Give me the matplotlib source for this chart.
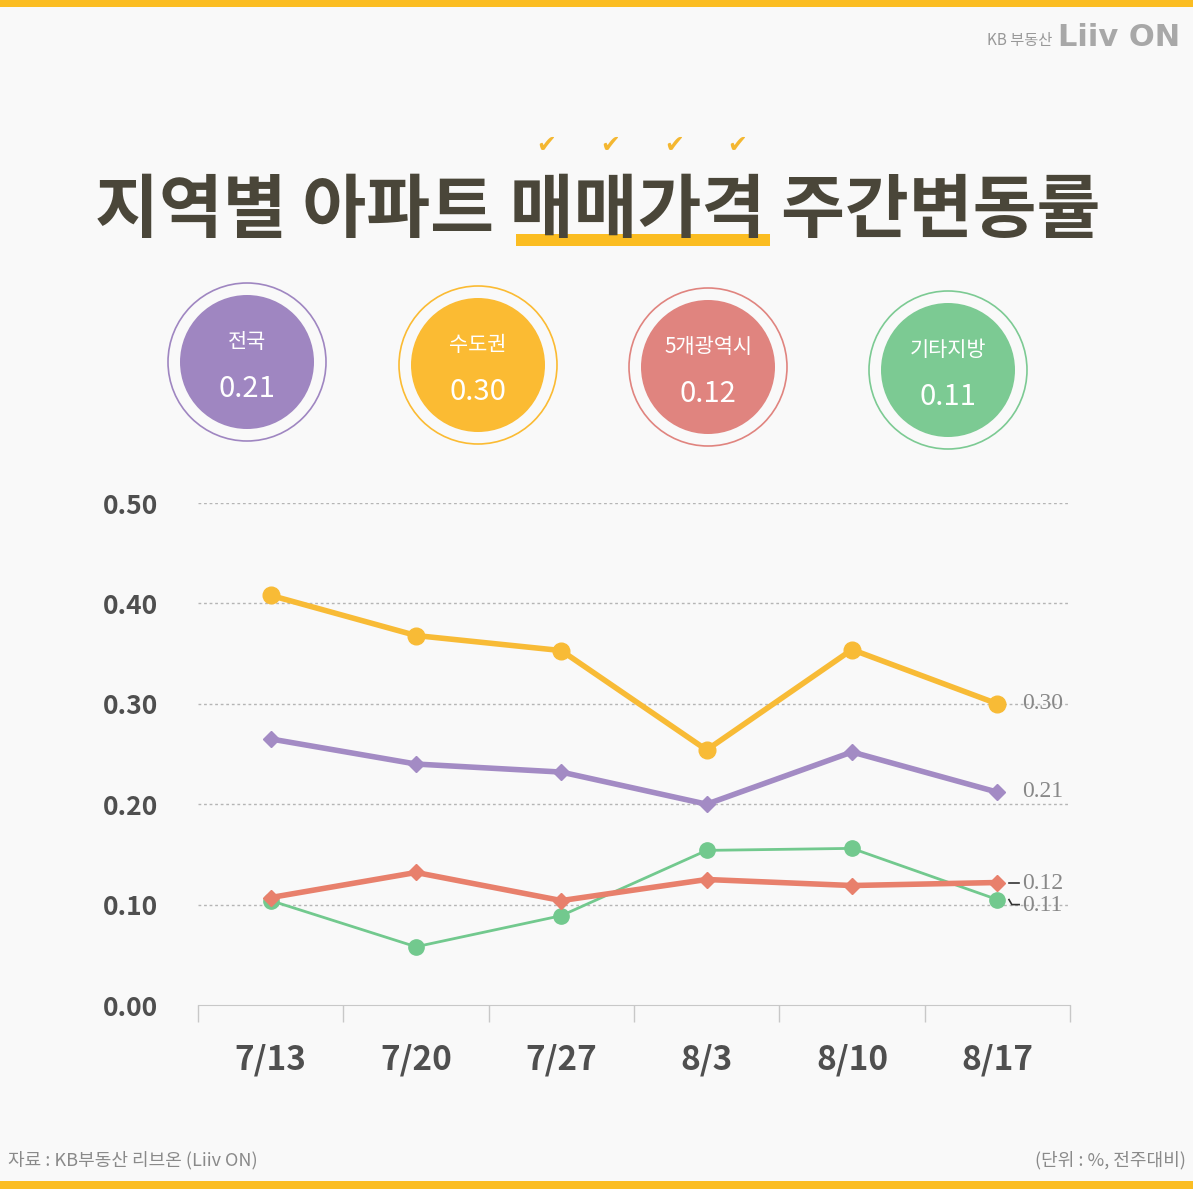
import matplotlib
matplotlib.use("Agg")
import matplotlib.pyplot as plt
from matplotlib.patches import Circle, Rectangle
import numpy as np

plt.rcParams['font.family'] = ['Noto Sans CJK KR', 'DejaVu Sans']

# data
dates = ["7/13", "7/20", "7/27", "8/3", "8/10", "8/17"]
capital = [0.408, 0.368, 0.353, 0.254, 0.354, 0.30]      # 수도권
nation = [0.265, 0.240, 0.232, 0.200, 0.252, 0.212]      # 전국
metro5 = [0.107, 0.132, 0.104, 0.125, 0.119, 0.122]      # 5개광역시
others = [0.104, 0.058, 0.089, 0.154, 0.156, 0.105]      # 기타지방

badge_names = ["전국", "수도권", "5개광역시", "기타지방"]
badge_values = ["0.21", "0.30", "0.12", "0.11"]
end_labels = ["0.30", "0.21", "0.12", "0.11"]

YELLOW = "#f8bb36"
PURPLE = "#a38bc4"
RED = "#e8806c"
GREEN = "#72c98e"
badge_colors = ["#9f86c1", "#fbbb33", "#e0847f", "#7cca93"]
TITLE_C = "#4a4639"

W, H = 1193, 1189
fig = plt.figure(figsize=(W / 100, H / 100), dpi=100, facecolor="#f9f9f9")

# overlay in pixel coordinates for decorations
deco = fig.add_axes([0, 0, 1, 1], zorder=0)
deco.set_xlim(0, W)
deco.set_ylim(H, 0)
deco.axis("off")

deco.add_patch(Rectangle((0, 0), W, 7, color="#fbbd22", lw=0))
deco.add_patch(Rectangle((0, 1181), W, 8, color="#fbbd22", lw=0))

# logo
deco.text(1052, 40, "KB 부동산", fontsize=11, color="#999999", ha="right", va="center")
deco.text(1058, 38, "Liiv ON", fontsize=22, color="#a8a8a8", ha="left", va="center",
          fontweight="bold", family="DejaVu Sans")

# title
deco.add_patch(Rectangle((516, 234), 254, 12, color="#fbbd22", lw=0, zorder=1))
deco.text(598, 212, "지역별 아파트 매매가격 주간변동률", fontsize=50, color=TITLE_C,
          fontweight="bold", ha="center", va="center", zorder=2)
for cx in [546, 610, 674, 737]:
    deco.text(cx, 145, "✔", fontsize=17, color="#f4b731", ha="center", va="center",
              family="DejaVu Sans")

# badges
centers = [(247, 362), (478, 365), (708, 367), (948, 370)]
for (cx, cy), name, val, col in zip(centers, badge_names, badge_values, badge_colors):
    deco.add_patch(Circle((cx, cy), 79, facecolor="none", edgecolor=col, lw=1.2))
    deco.add_patch(Circle((cx, cy), 67, facecolor=col, edgecolor="none"))
    deco.text(cx, cy - 20, name, fontsize=15, color="white", ha="center", va="center")
    deco.text(cx, cy + 27, val, fontsize=21, color="white", ha="center", va="center")

# footer
deco.text(8, 1160, "자료 : KB부동산 리브온 (Liiv ON)", fontsize=13, color="#8a8a8a",
          ha="left", va="center")
deco.text(1186, 1160, "(단위 : %, 전주대비)", fontsize=13, color="#8a8a8a",
          ha="right", va="center")

# chart
ax = fig.add_axes([198 / W, 1 - 1005 / H, (1070 - 198) / W, (1005 - 503) / H], zorder=2)
ax.patch.set_alpha(0)
x = np.arange(len(dates))

ax.plot(x, others, color=GREEN, lw=2, marker="o", ms=11, zorder=3, clip_on=False)
ax.plot(x, metro5, color=RED, lw=4, marker="D", ms=8, zorder=4, clip_on=False)
ax.plot(x, nation, color=PURPLE, lw=4, marker="D", ms=8, zorder=4, clip_on=False)
ax.plot(x, capital, color=YELLOW, lw=4, marker="o", ms=12, zorder=5, clip_on=False)

ax.set_xlim(-0.5, 5.5)
ax.set_ylim(0, 0.5)
for yv in [0.1, 0.2, 0.3, 0.4, 0.5]:
    ax.axhline(yv, color="#b5b5b5", lw=1, ls=(0, (2, 2)), zorder=1)

ax.set_yticks([0, 0.1, 0.2, 0.3, 0.4, 0.5])
ax.set_yticklabels(["0.00", "0.10", "0.20", "0.30", "0.40", "0.50"])
ax.set_xticks(x)
ax.set_xticklabels(dates)
ax.set_xticks(np.arange(-0.5, 6, 1), minor=True)
ax.tick_params(axis="y", length=0, pad=29, labelsize=19, labelcolor="#4f4f4f")
ax.tick_params(axis="x", which="major", length=0, pad=28, labelsize=24, labelcolor="#4f4f4f")
ax.tick_params(axis="x", which="minor", length=12, width=1, color="#c8c8c8")
for lab in ax.get_yticklabels() + ax.get_xticklabels():
    lab.set_fontweight("bold")
for s in ["left", "right", "top"]:
    ax.spines[s].set_visible(False)
ax.spines["bottom"].set_color("#c8c8c8")

# end labels
xl = 5.17
lab_kw = dict(fontsize=17, color="#888888", va="center", family="Liberation Serif")
ax.text(xl, capital[-1], end_labels[0], **lab_kw)
ax.text(xl, nation[-1] + 0.001, end_labels[1], **lab_kw)
ax.text(xl, 0.121, end_labels[2], **lab_kw)
ax.text(xl, 0.099, end_labels[3], **lab_kw)
ax.plot([5.08, 5.15], [0.122, 0.122], color="#333333", lw=1.2, clip_on=False)
ax.plot([5.08, 5.1, 5.15], [0.105, 0.1, 0.1], color="#333333", lw=1.2, clip_on=False)

fig.savefig("out.png", dpi=100, facecolor=fig.get_facecolor())
